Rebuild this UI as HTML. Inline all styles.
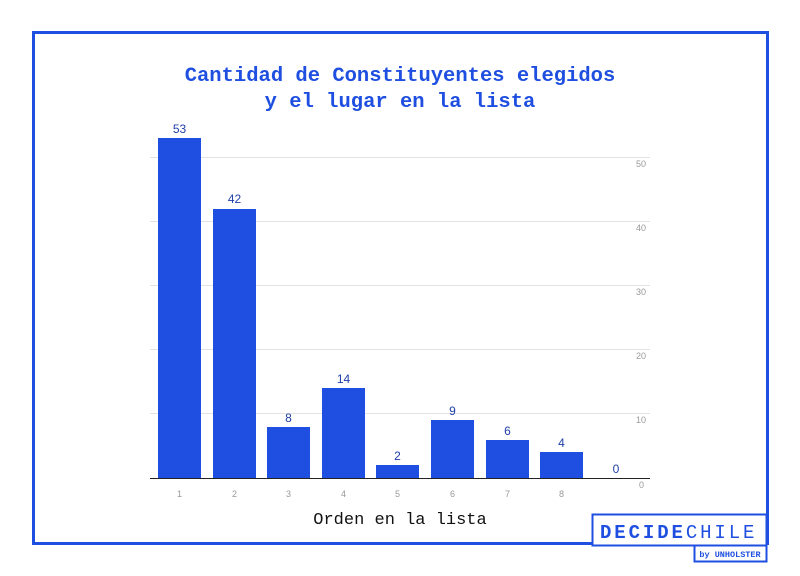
<!DOCTYPE html>
<html><head><meta charset="utf-8"><style>
body{margin:0;background:#fff;width:800px;height:576px;overflow:hidden;position:relative;font-family:"Liberation Mono",monospace}
</style></head><body>
<svg width="800" height="576" style="position:absolute;left:0;top:0">
<rect x="33.5" y="32.5" width="734" height="511" fill="none" stroke="#1f4fe0" stroke-width="3"/>
<g font-family="Liberation Mono, monospace" font-weight="bold" font-size="20.5" fill="#1f4fe0" text-anchor="middle">
<text x="400" y="81">Cantidad de Constituyentes elegidos</text>
<text x="400" y="107">y el lugar en la lista</text>
</g>
<g stroke="#e2e2e2" stroke-width="1">
<line x1="150" x2="650" y1="157.5" y2="157.5"/>
<line x1="150" x2="650" y1="221.5" y2="221.5"/>
<line x1="150" x2="650" y1="285.5" y2="285.5"/>
<line x1="150" x2="650" y1="349.5" y2="349.5"/>
<line x1="150" x2="650" y1="413.5" y2="413.5"/>
</g>
<g font-family="Liberation Sans, sans-serif" font-size="9" fill="#999">
<text x="636" y="167">50</text><text x="636" y="231">40</text><text x="636" y="295">30</text>
<text x="636" y="359">20</text><text x="636" y="423">10</text><text x="639" y="488">0</text>
</g>
<g fill="#1f4fe0">
<rect x="158" y="138" width="43" height="340"/>
<rect x="213" y="209" width="43" height="269"/>
<rect x="267" y="427" width="43" height="51"/>
<rect x="322" y="388" width="43" height="90"/>
<rect x="376" y="465" width="43" height="13"/>
<rect x="431" y="420" width="43" height="58"/>
<rect x="486" y="440" width="43" height="38"/>
<rect x="540" y="452" width="43" height="26"/>
</g>
<line x1="150" x2="650" y1="478.5" y2="478.5" stroke="#222" stroke-width="1"/>
<g font-family="Liberation Sans, sans-serif" font-size="12" fill="#1f3fa8" text-anchor="middle">
<text x="179.5" y="133">53</text><text x="234.5" y="203">42</text><text x="288.5" y="422">8</text>
<text x="343.5" y="383">14</text><text x="397.5" y="460">2</text><text x="452.5" y="415">9</text>
<text x="507.5" y="435">6</text><text x="561.5" y="447">4</text><text x="616" y="473">0</text>
</g>
<g font-family="Liberation Sans, sans-serif" font-size="9" fill="#999" text-anchor="middle">
<text x="179.5" y="497">1</text><text x="234.5" y="497">2</text><text x="288.5" y="497">3</text>
<text x="343.5" y="497">4</text><text x="397.5" y="497">5</text><text x="452.5" y="497">6</text>
<text x="507.5" y="497">7</text><text x="561.5" y="497">8</text>
</g>
<text x="400" y="524" text-anchor="middle" font-family="Liberation Mono, monospace" font-size="17" fill="#111">Orden en la lista</text>
<rect x="592.5" y="514.5" width="174" height="31" fill="#fff" stroke="#1f4fe0" stroke-width="2"/>
<rect x="694.5" y="545.5" width="72" height="16" fill="#fff" stroke="#1f4fe0" stroke-width="2"/>
<text x="600" y="538" font-family="Liberation Mono, monospace" font-size="19" fill="#1f4fe0" letter-spacing="2.9"><tspan font-weight="bold">DECIDE</tspan>CHILE</text>
<text x="730" y="557" text-anchor="middle" font-family="Liberation Mono, monospace" font-size="8.5" font-weight="bold" fill="#1f4fe0">by UNHOLSTER</text>
</svg>
</body></html>
